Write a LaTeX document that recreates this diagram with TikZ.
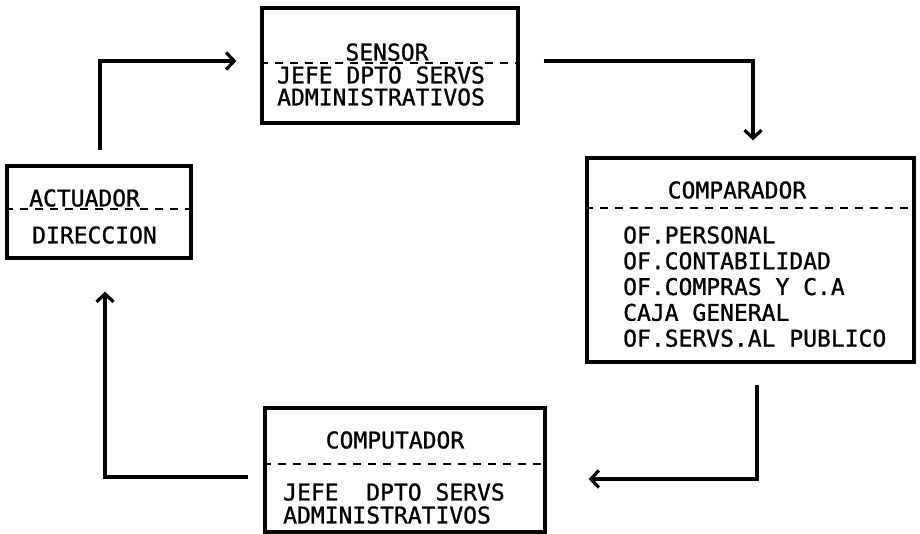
\documentclass[tikz,border=0pt]{standalone}
\usepackage{fontspec}
\newfontfamily\typefont[FakeBold=1]{DejaVu Sans Mono}
\usetikzlibrary{arrows.meta}
\begin{document}
\begin{tikzpicture}[x=1bp,y=-1bp,
  box/.style={draw, line width=3.2bp, inner sep=0pt},
  lbl/.style={font=\typefont\fontsize{23bp}{25bp}\selectfont, inner sep=0pt, anchor=base west},
  ttl/.style={lbl, anchor=base},
  sepline/.style={line width=2.6bp, dash pattern=on 8bp off 7bp},
  conn/.style={line width=3.2bp, -{Straight Barb[length=8bp,width=17bp]}}]
\useasboundingbox (0,0) rectangle (920,534);

% boxes
\node[box, minimum width=256bp, minimum height=115bp] (sensor) at (390,65.5) {};
\node[box, minimum width=184bp, minimum height=92bp] (act) at (99,212) {};
\node[box, minimum width=327bp, minimum height=204bp] (comp) at (750.5,260) {};
\node[box, minimum width=280bp, minimum height=124bp] (compu) at (405,470) {};

% separators
\draw[sepline] ([yshift=2.5bp]sensor.west) -- ([yshift=2.5bp]sensor.east);
\draw[sepline] ([yshift=3bp]act.west) -- ([yshift=3bp]act.east);
\draw[sepline] ([yshift=52bp]comp.west) -- ([yshift=52bp]comp.east);
\draw[sepline] ([yshift=6bp]compu.west) -- ([yshift=6bp]compu.east);

% sensor texts
\node[ttl] (sensorT) at (387,60.5) {SENSOR};
\node[lbl] (sensorA) at (277,83.4) {JEFE DPTO SERVS};
\node[lbl] (sensorB) at (277,105.4) {ADMINISTRATIVOS};

% actuador texts
\node[lbl] (actT) at (29,206.4) {ACTUADOR};
\node[lbl] (actA) at (32,243.4) {DIRECCION};

% comparador texts
\node[ttl] (compT) at (737,198.4) {COMPARADOR};
\node[lbl] (compA) at (623,243.4) {OF.PERSONAL};
\node[lbl] (compB) at (623,269.2) {OF.CONTABILIDAD};
\node[lbl] (compC) at (623,295.0) {OF.COMPRAS Y C.A};
\node[lbl] (compD) at (623,320.8) {CAJA GENERAL};
\node[lbl] (compE) at (623,346.6) {OF.SERVS.AL PUBLICO};

% computador texts
\node[ttl] (compuT) at (395,448.4) {COMPUTADOR};
\node[lbl] (compuA) at (283,500.4) {JEFE\ \ DPTO SERVS};
\node[lbl] (compuB) at (283,523.4) {ADMINISTRATIVOS};

% connectors
\draw[conn, shorten <=14bp, shorten >=24bp] ([xshift=1bp]act.north) |- ([yshift=4.5bp]sensor.west);
\draw[conn, shorten <=24bp, shorten >=16bp] ([yshift=4.5bp]sensor.east) -| ([xshift=2.5bp]comp.north);
\draw[conn, shorten <=21bp, shorten >=42bp] ([xshift=6.5bp]comp.south) |- ([yshift=-9bp]compu.east);
\draw[conn, shorten <=15bp, shorten >=32bp] ([yshift=-7bp]compu.west) -| ([xshift=6bp]act.south);
\end{tikzpicture}
\end{document}
